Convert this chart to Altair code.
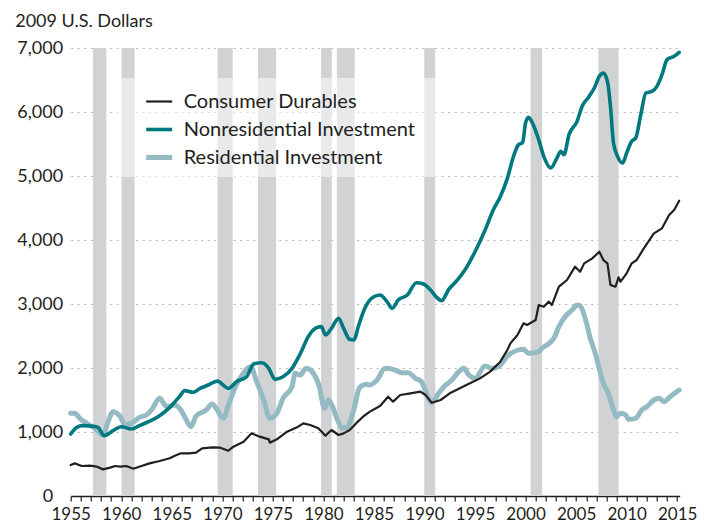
import altair as alt
import pandas as pd

FONT = "Lato"
TXT = "#231f20"

# ---- data ----
cd_years = [1955.0, 1955.4, 1956.1, 1956.9, 1957.6, 1958.2, 1958.9, 1959.4, 1959.9, 1960.5, 1961.2, 1962.0,
            1962.8, 1963.8, 1964.8, 1965.3, 1965.9, 1966.7, 1967.4, 1968.0, 1969.0, 1969.8, 1970.6, 1971.1,
            1972.1, 1972.9, 1973.7, 1974.6, 1974.7, 1975.4, 1976.4, 1977.4, 1978.0, 1978.7, 1979.5, 1980.2,
            1980.8, 1981.5, 1982.0, 1982.6, 1983.3, 1984.0, 1984.6, 1985.6, 1986.4, 1986.9, 1987.6, 1988.6,
            1989.6, 1990.1, 1990.7, 1991.6, 1992.5, 1993.5, 1994.5, 1995.5, 1996.5, 1997.5, 1998.2, 1998.5,
            1999.2, 1999.8, 2000.15, 2001.0, 2001.3, 2001.8, 2002.3, 2002.6, 2003.3, 2004.1, 2004.9, 2005.4,
            2005.8, 2006.6, 2007.3, 2007.7, 2008.1, 2008.4, 2008.9, 2009.2, 2009.4, 2010.0, 2010.5, 2011.0,
            2011.7, 2012.7, 2013.5, 2014.2, 2014.7, 2015.2]
cd_vals = [484, 510, 469, 474, 458, 416, 443, 469, 458, 469, 427, 469,
           510, 547, 589, 630, 667, 667, 677, 745, 760, 755, 708, 771,
           849, 979, 927, 885, 833, 885, 1005, 1073, 1135, 1109, 1057, 943,
           1031, 953, 979, 1031, 1146, 1250, 1318, 1406, 1552, 1474, 1578, 1604,
           1630, 1578, 1458, 1500, 1604, 1682, 1760, 1838, 1943, 2099, 2281, 2385,
           2516, 2698, 2672, 2750, 2984, 2958, 3037, 2984, 3270, 3375, 3583, 3505,
           3635, 3713, 3817, 3687, 3635, 3296, 3270, 3417, 3349, 3479, 3635, 3687,
           3869, 4104, 4182, 4390, 4468, 4614]

nr_years = [1955.0, 1955.6, 1956.2, 1957.2, 1957.7, 1958.3, 1959.2, 1960.0, 1961.0, 1961.8, 1962.7, 1963.8,
            1964.8, 1965.7, 1966.3, 1967.1, 1967.8, 1968.6, 1969.5, 1970.6, 1971.4, 1972.4, 1973.1, 1973.9,
            1974.6, 1975.2, 1976.0, 1976.9, 1977.7, 1978.5, 1979.2, 1979.8, 1980.2, 1980.8, 1981.5, 1982.0,
            1982.6, 1983.0, 1983.5, 1984.1, 1984.9, 1985.6, 1986.3, 1986.8, 1987.4, 1988.3, 1989.2, 1989.9,
            1990.6, 1991.2, 1991.7, 1992.4, 1993.2, 1994.0, 1995.0, 1996.0, 1996.8, 1997.5, 1998.2, 1998.8,
            1999.3, 1999.7, 2000.0, 2000.3, 2000.6, 2001.3, 2001.8, 2002.5, 2003.1, 2003.5, 2003.8, 2004.3,
            2005.1, 2005.6, 2006.3, 2006.8, 2007.3, 2007.7, 2008.1, 2008.4, 2008.7, 2009.1, 2009.6, 2010.0,
            2010.5, 2010.9, 2011.4, 2011.9, 2012.5, 2013.0, 2013.5, 2014.0, 2014.7, 2015.2]
nr_vals = [969, 1073, 1099, 1089, 1073, 943, 1021, 1083, 1047, 1099, 1161, 1255,
           1385, 1541, 1646, 1620, 1682, 1734, 1795, 1682, 1786, 1864, 2062, 2083,
           1995, 1823, 1864, 1995, 2219, 2490, 2620, 2646, 2516, 2620, 2776, 2620,
           2448, 2438, 2672, 2932, 3104, 3140, 3036, 2932, 3062, 3140, 3333, 3312,
           3219, 3104, 3052, 3229, 3364, 3531, 3817, 4156, 4469, 4677, 4963, 5302,
           5490, 5521, 5828, 5917, 5854, 5568, 5307, 5125, 5281, 5385, 5333, 5646,
           5854, 6089, 6245, 6375, 6557, 6609, 6479, 6089, 5515, 5307, 5203, 5359,
           5542, 5594, 5958, 6297, 6323, 6401, 6583, 6818, 6870, 6932]

rs_years = [1955.0, 1955.4, 1955.9, 1956.6, 1957.4, 1958.2, 1958.7, 1959.2, 1959.9, 1960.4, 1961.0, 1961.8,
            1962.5, 1963.0, 1963.8, 1964.5, 1965.3, 1965.9, 1966.4, 1966.9, 1967.4, 1968.4, 1969.0, 1969.4,
            1970.1, 1970.6, 1971.3, 1971.9, 1972.8, 1973.4, 1974.1, 1974.7, 1975.4, 1976.0, 1976.9, 1977.2,
            1977.7, 1978.3, 1979.0, 1979.6, 1980.1, 1980.5, 1980.9, 1981.4, 1981.9, 1982.4, 1983.0, 1983.6,
            1984.3, 1984.6, 1985.3, 1986.1, 1986.9, 1987.8, 1988.4, 1989.1, 1989.7, 1990.2, 1990.7, 1991.4,
            1992.0, 1992.7, 1993.4, 1993.9, 1994.4, 1995.0, 1996.0, 1996.7, 1997.5, 1998.3, 1999.0, 1999.8,
            2000.3, 2000.8, 2001.3, 2001.6, 2002.1, 2002.8, 2003.3, 2003.9, 2004.6, 2005.1, 2005.4, 2005.9,
            2006.4, 2006.9, 2007.2, 2007.7, 2008.2, 2008.6, 2009.0, 2009.4, 2009.9, 2010.2, 2010.9, 2011.5,
            2012.0, 2012.7, 2013.2, 2013.7, 2014.3, 2015.2]
rs_vals = [1292, 1292, 1214, 1135, 1057, 953, 1161, 1318, 1240, 1109, 1135, 1229,
           1266, 1344, 1526, 1396, 1422, 1344, 1198, 1083, 1250, 1344, 1438, 1370,
           1214, 1422, 1708, 1875, 2021, 1786, 1500, 1214, 1292, 1526, 1708, 1917,
           1891, 1995, 1917, 1708, 1370, 1500, 1396, 1188, 1057, 1083, 1344, 1700,
           1745, 1734, 1812, 1995, 1979, 1927, 1927, 1838, 1786, 1604, 1458, 1604,
           1719, 1812, 1943, 1995, 1891, 1838, 2031, 1995, 2047, 2203, 2266, 2292,
           2229, 2240, 2255, 2307, 2359, 2464, 2646, 2802, 2906, 2984, 2969, 2776,
           2464, 2229, 2047, 1760, 1604, 1396, 1240, 1292, 1266, 1198, 1214, 1344,
           1396, 1500, 1526, 1474, 1552, 1656]

series_names = ["Consumer Durables", "Nonresidential Investment", "Residential Investment"]
series_colors = ["#231f20", "#00787f", "#94bac3"]
series_widths = [2.2, 5, 5]

rec_start = [1957.2, 1960.03, 1969.53, 1973.53, 1979.77, 1981.33, 1989.98, 2000.5, 2007.2]
rec_end = [1958.53, 1961.33, 1971.03, 1975.33, 1980.83, 1983.1, 1991.07, 2001.64, 2009.2]

y_ticks = [0, 1000, 2000, 3000, 4000, 5000, 6000, 7000]
x_ticks = list(range(1955, 2016))

# ---- tables ----
rows = []
for name, ys, vs in zip(series_names, [cd_years, nr_years, rs_years], [cd_vals, nr_vals, rs_vals]):
    for y, v in zip(ys, vs):
        rows.append({"series": name, "year": y, "value": v})
df = pd.DataFrame(rows)
rec_df = pd.DataFrame({"start": rec_start, "end": rec_end})

x_scale = alt.Scale(domain=[1955, 2015.25], nice=False, zero=False)
y_scale = alt.Scale(domain=[0, 7000], nice=False)

x_axis = alt.Axis(values=x_ticks, labelExpr="datum.value % 5 == 0 ? '' + datum.value : ''",
                  grid=False, domainColor=TXT, domainWidth=1.5, tickColor=TXT, tickSize=5,
                  tickWidth=1.2, labelFontSize=17, labelFont=FONT, labelColor=TXT,
                  labelPadding=5.5, labelOverlap=False, labelFlush=False, title=None)
y_axis = alt.Axis(values=y_ticks, format=",.0f",
                  grid=True, gridDash=[2, 4.5], gridColor="#b5b5b5",
                  gridWidth=1, domain=False, ticks=False,
                  labelPadding=alt.condition("datum.value == 0", alt.value(18), alt.value(8)),
                  labelFontSize=18,
                  labelFont=FONT, labelColor=TXT, labelOverlap=False, title="2009 U.S. Dollars",
                  titleAngle=0, titleAlign="left", titleX=-56, titleY=-22,
                  titleBaseline="alphabetic", titleFontSize=18, titleFontWeight="normal",
                  titleFont=FONT, titleColor=TXT)

legend = alt.Legend(title=" ", titleOrient="right", titlePadding=14, orient="none",
                    legendX=43, legendY=30, padding=9, fillColor="rgba(255,255,255,0.5)",
                    symbolType="stroke", symbolSize=676, symbolOffset=21, labelOffset=9,
                    labelFontSize=20, labelFont=FONT, labelColor=TXT, rowPadding=2.5,
                    labelLimit=400)

bands = alt.Chart(rec_df).mark_rect(color="#d1d2d4").encode(
    x=alt.X("start:Q", scale=x_scale, axis=x_axis),
    x2="end:Q",
)

def series_layer(name, interp):
    return alt.Chart(df).transform_filter(alt.datum.series == name).mark_line(
        strokeJoin="round", strokeCap="round", interpolate=interp
    ).encode(
        x=alt.X("year:Q", scale=x_scale, axis=x_axis),
        y=alt.Y("value:Q", scale=y_scale, axis=y_axis),
        color=alt.Color("series:N", scale=alt.Scale(domain=series_names, range=series_colors),
                        legend=legend),
        strokeWidth=alt.StrokeWidth("series:N",
                                    scale=alt.Scale(domain=series_names, range=series_widths),
                                    legend=legend),
    )

layers = [bands,
          series_layer("Residential Investment", "monotone"),
          series_layer("Nonresidential Investment", "monotone"),
          series_layer("Consumer Durables", "linear")]

chart = alt.layer(*layers).properties(
    width=609, height=448, autosize="none",
    padding={"left": 70.7, "top": 48, "right": 29.3, "bottom": 28},
    background="white",
).configure_view(stroke=None)

chart.save("out.html", embed_options={"renderer": "svg", "actions": False})
